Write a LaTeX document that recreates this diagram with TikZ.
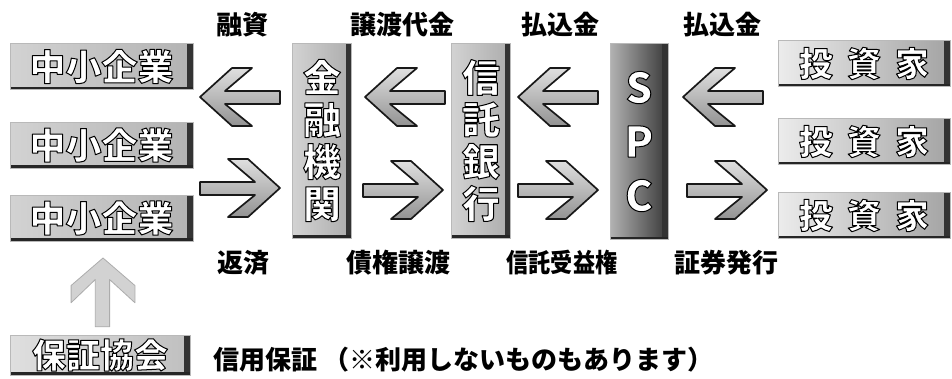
\documentclass[tikz,border=0pt]{standalone}
\usepackage{fontspec}
\newfontfamily\jp{Noto Sans CJK JP}
\newfontfamily\jpblack{Noto Sans CJK JP Black}
\newcommand\wc[1]{\special{pdf:literal direct 0 0 0 RG 1.0 w 1 j 2 Tr}#1\special{pdf:literal direct 0 Tr 0.4 w}}
\tikzset{
  boxbase/.style={inner sep=0pt, text=white, draw=gray!55, line width=0.4pt,
    path picture={
      \fill[black!80] ([xshift=-6pt]path picture bounding box.north east) rectangle (path picture bounding box.south east);
      \fill[black!85] ([yshift=3pt]path picture bounding box.south west) rectangle (path picture bounding box.south east);}},
  smebox/.style={boxbase, left color=gray!35, right color=gray!60, minimum width=183pt, minimum height=46pt,
    font=\jp\bfseries\fontsize{36pt}{40pt}\selectfont},
  hbox/.style={boxbase, left color=gray!25, right color=gray!50, minimum width=180pt, minimum height=40pt,
    font=\jp\bfseries\fontsize{34pt}{38pt}\selectfont},
  colbox/.style={boxbase, left color=gray!35, right color=gray!65, minimum width=59pt, minimum height=195pt,
    align=center, font=\jp\bfseries\fontsize{38pt}{42pt}\selectfont},
  spcbox/.style={boxbase, left color=gray!60, right color=black!78, minimum width=58pt, minimum height=196pt,
    align=center, font=\jp\bfseries\fontsize{42pt}{54pt}\selectfont},
  invbox/.style={boxbase, left color=gray!15, right color=gray!72, minimum width=172pt, minimum height=46pt,
    font=\jp\bfseries\fontsize{34pt}{38pt}\selectfont},
  lab/.style={inner sep=0pt, font=\jpblack\fontsize{26pt}{30pt}\selectfont},
  arrowfill/.style={top color=gray!25, bottom color=gray!85, draw=black!90, line width=1.7pt, line join=round},
  uparrowfill/.style={fill=gray!35, draw=gray!65, line width=0.8pt, line join=round},
  blockarr/.pic={
    \path[arrowfill] (0,0) -- (32,-29) -- (52,-29) -- (25,-6) -- (80,-6) -- (80,7) -- (25,7) -- (52,29) -- (32,29) -- cycle;},
  uparr/.pic={
    \path[uparrowfill] (0,0) -- (32,-29) -- (52,-29) -- (25,-6) -- (80,-6) -- (80,7) -- (25,7) -- (52,29) -- (32,29) -- cycle;}
}
\begin{document}
\begin{tikzpicture}[x=1pt,y=-1pt]
\fill[white] (0,0) rectangle (952,378);
\useasboundingbox (0,0) rectangle (952,378);

% left column
\node[smebox] (sme1) at (101.5,66.5) {\wc{中小企業}};
\node[smebox] (sme2) at (101.5,145) {\wc{中小企業}};
\node[smebox] (sme3) at (101.5,218) {\wc{中小企業}};
\node[hbox] (hosho) at (100,355) {\wc{保証協会}};

% middle columns
\node[colbox] (kin) at (322,140.5) {\wc{金}\\\wc{融}\\\wc{機}\\\wc{関}};
\node[colbox] (shin) at (481,140.5) {\wc{信}\\\wc{託}\\\wc{銀}\\\wc{行}};
\node[spcbox] (spc) at (639,141.5) {\wc{S}\\\wc{P}\\\wc{C}};

% investors
\node[invbox] (inv1) at (864,63.5) {\wc{投\hspace{14pt}資\hspace{14pt}家}};
\node[invbox] (inv2) at (864,141.5) {\wc{投\hspace{14pt}資\hspace{14pt}家}};
\node[invbox] (inv3) at (864,215.5) {\wc{投\hspace{14pt}資\hspace{14pt}家}};

% arrows
\path (200,97) pic {blockarr};
\path (280,188) pic[xscale=-1] {blockarr};
\path (365,97) pic {blockarr};
\path (443,190) pic[xscale=-1] {blockarr};
\path (518,97) pic {blockarr};
\path (598,190) pic[xscale=-1] {blockarr};
\path (683,97) pic {blockarr};
\path (767,190) pic[xscale=-1] {blockarr};
\path (103,258) pic[rotate=-90, xscale=0.86, yscale=1.1] {uparr};

% labels
\node[lab] (t1) at (242,25) {融資};
\node[lab] (t2) at (402,25) {譲渡代金};
\node[lab] (t3) at (560,25) {払込金};
\node[lab] (t4) at (722,25) {払込金};
\node[lab] (b1) at (243,263) {返済};
\node[lab] (b2) at (398,263) {債権譲渡};
\node[lab, xscale=0.85, transform shape] (b3) at (562,263) {信託受益権};
\node[lab] (b4) at (726,263) {証券発行};
\node[lab, anchor=west] (note) at (213,360) {信用保証 （※利用しないものもあります）};
\end{tikzpicture}
\end{document}
